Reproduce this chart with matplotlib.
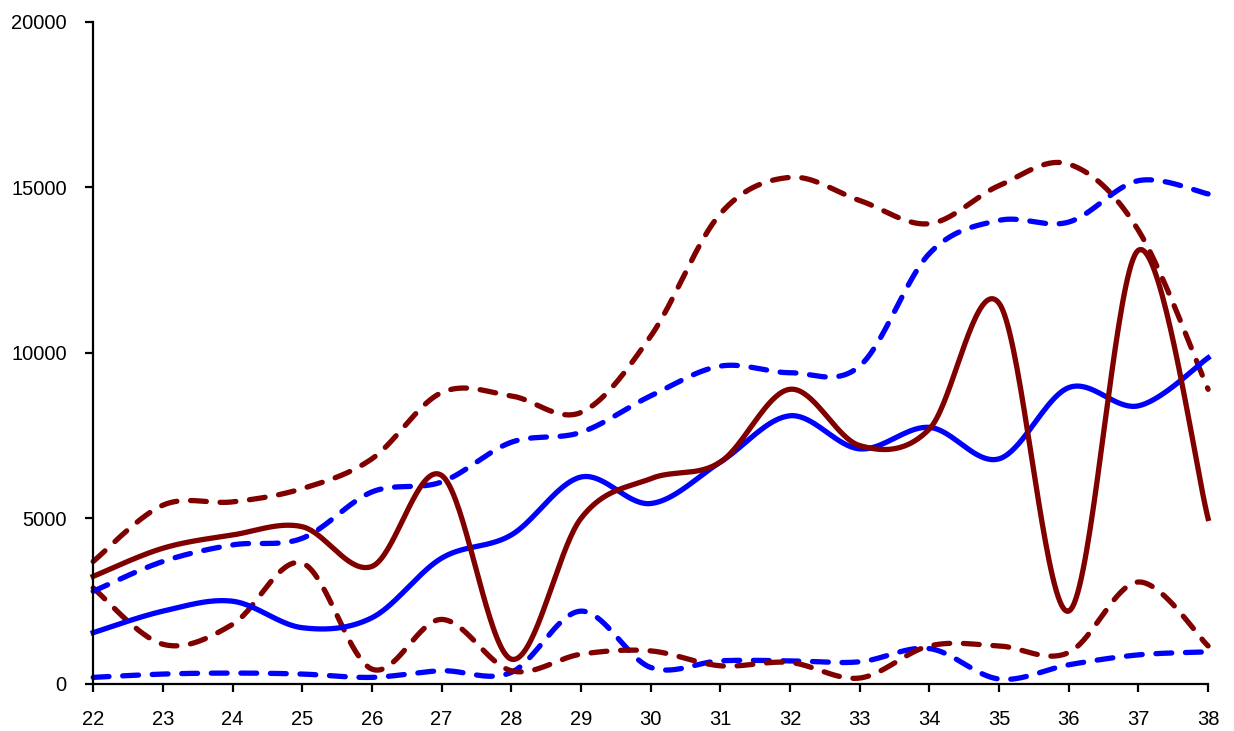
import numpy as np
import matplotlib.pyplot as plt

# semanas
semanas = list(range(22, 39))

# serie azul: valor central y limites
azul_medio = [1550, 2200, 2500, 1700, 2000, 3800, 4500, 6250, 5450, 6700, 8100, 7100, 7750, 6800, 8950, 8400, 9850]
azul_sup = [2800, 3700, 4200, 4400, 5800, 6100, 7300, 7600, 8700, 9600, 9400, 9600, 13000, 14000, 13950, 15200, 14800]
azul_inf = [200, 300, 330, 300, 200, 400, 350, 2200, 500, 700, 700, 670, 1070, 150, 580, 880, 970]

# serie roja: valor central y limites
rojo_medio = [3250, 4100, 4500, 4750, 3550, 6300, 750, 5000, 6200, 6700, 8900, 7200, 7700, 11500, 2200, 13100, 5000]
rojo_sup = [3700, 5400, 5500, 5900, 6800, 8800, 8700, 8200, 10500, 14200, 15300, 14600, 13900, 15050, 15700, 13700, 8900]
rojo_inf = [2900, 1200, 1800, 3650, 450, 1950, 400, 900, 1000, 550, 650, 180, 1150, 1150, 950, 3080, 1150]

eje_y = [0, 5000, 10000, 15000, 20000]


def suavizar(x, y, n=40):
    # curva suavizada tipo Catmull-Rom entre puntos consecutivos
    x = np.asarray(x, float)
    y = np.asarray(y, float)
    px = np.concatenate([[x[0]], x, [x[-1]]])
    py = np.concatenate([[y[0]], y, [y[-1]]])
    xs, ys = [], []
    t = np.linspace(0, 1, n)
    for i in range(1, len(px) - 2):
        p0 = np.array([px[i], py[i]])
        p3 = np.array([px[i + 1], py[i + 1]])
        p1 = p0 + (np.array([px[i + 1], py[i + 1]]) - np.array([px[i - 1], py[i - 1]])) / 6
        p2 = p3 - (np.array([px[i + 2], py[i + 2]]) - np.array([px[i], py[i]])) / 6
        b = ((1 - t) ** 3)[:, None] * p0 + (3 * (1 - t) ** 2 * t)[:, None] * p1 \
            + (3 * (1 - t) * t ** 2)[:, None] * p2 + (t ** 3)[:, None] * p3
        xs.extend(b[:, 0])
        ys.extend(b[:, 1])
    return xs, ys


plt.rcParams['font.family'] = ['Liberation Sans', 'DejaVu Sans']

fig = plt.figure(figsize=(12.34, 7.31), dpi=100)
ax = fig.add_axes([0.0755, 0.0643, 0.9035, 0.906])

AZUL = '#0000FF'
ROJO = '#800000'
lw = 3.8
guion = (3.0, 2.6)

series = [
    (azul_inf, AZUL, '--'),
    (rojo_inf, ROJO, '--'),
    (azul_sup, AZUL, '--'),
    (rojo_sup, ROJO, '--'),
    (azul_medio, AZUL, '-'),
    (rojo_medio, ROJO, '-'),
]
for datos, color, estilo in series:
    xs, ys = suavizar(semanas, datos)
    linea, = ax.plot(xs, ys, color=color, lw=lw, linestyle=estilo, clip_on=False)
    if estilo == '--':
        linea.set_dashes(guion)
        linea.set_dash_capstyle('round')

ax.set_xlim(22, 38)
ax.set_ylim(0, 20000)
ax.set_xticks(semanas)
ax.set_yticks(eje_y)
ax.set_yticklabels([str(v) for v in eje_y], va='center_baseline')

for lado in ['top', 'right']:
    ax.spines[lado].set_visible(False)
for lado in ['left', 'bottom']:
    ax.spines[lado].set_linewidth(1.6)

ax.tick_params(axis='both', direction='out', length=6, width=1.6, labelsize=14.5, pad=13)

fig.savefig('out.png', dpi=100)
